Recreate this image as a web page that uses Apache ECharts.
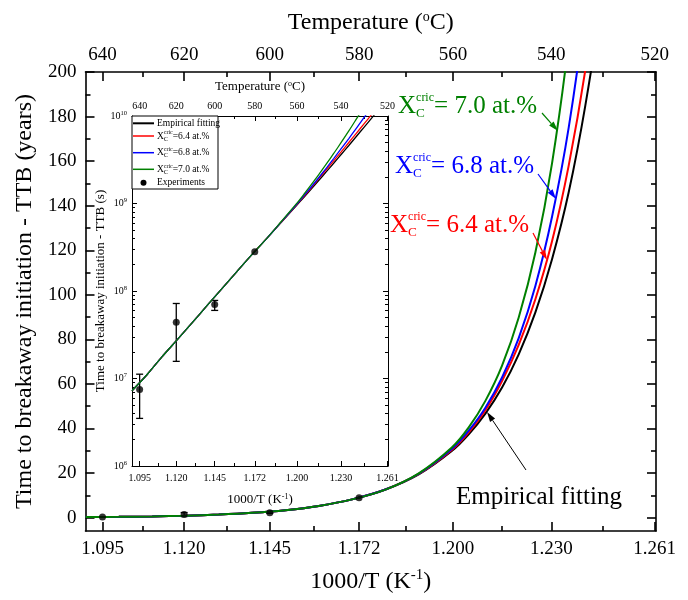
<!DOCTYPE html>
<html>
<head>
<meta charset="utf-8">
<title>Time to breakaway initiation</title>
<script src="https://cdn.jsdelivr.net/npm/echarts@6.0.0/dist/echarts.min.js"></script>
<style>
html, body { margin: 0; padding: 0; background: #fff; }
#chart { width: 688px; height: 600px; }
</style>
</head>
<body>
<div id="chart"></div>
<script>
// 1000/T (K^-1) sample points of the curves
const invT = [1.090, 1.100, 1.110, 1.120, 1.130, 1.140, 1.150, 1.160, 1.170, 1.180, 1.190, 1.200,
  1.205, 1.210, 1.215, 1.220, 1.225, 1.230, 1.235, 1.240, 1.245, 1.250, 1.255]
// TTB in years
const ttbFit = [0.23, 0.35, 0.56, 0.87, 1.36, 2.14, 3.35, 5.25, 8.2, 12.6, 19.4, 30.0,
  37.4, 46.7, 58.4, 73.3, 92.1, 116, 146, 185, 234, 296, 376]
const ttb64 = [0.23, 0.35, 0.56, 0.87, 1.36, 2.14, 3.35, 5.25, 8.2, 12.6, 19.6, 30.5,
  38.3, 48.2, 61.3, 77.5, 98.0, 124, 158, 201, 256, 326, 417]
const ttb68 = [0.23, 0.35, 0.56, 0.87, 1.36, 2.14, 3.35, 5.25, 8.2, 12.6, 19.7, 30.9,
  39.0, 49.3, 62.9, 80.6, 104, 135, 175, 229, 301, 397, 526]
const ttb70 = [0.23, 0.35, 0.56, 0.87, 1.36, 2.14, 3.35, 5.25, 8.2, 12.6, 19.9, 31.6,
  40.5, 52.4, 68.2, 89.8, 119, 159, 214, 292, 400, 550, 760]

// experiments, TTB in seconds
const expInvT = [1.0951, 1.1196, 1.1453, 1.1721]
const expTTB = [7.5e6, 4.4e7, 7.0e7, 2.8e8]
const expLow = [3.5e6, 1.57e7, 6.0e7, 2.8e8]
const expHigh = [1.12e7, 7.2e7, 7.8e7, 2.8e8]

// tick labels
const tempTicks = [640, 620, 600, 580, 560, 540, 520]
const tempMinor = [630, 610, 590, 570, 550, 530]
const invTLabels = ['1.095', '1.120', '1.145', '1.172', '1.200', '1.230', '1.261']
const yTicks = [0, 20, 40, 60, 80, 100, 120, 140, 160, 180, 200]
const yMinor = [10, 30, 50, 70, 90, 110, 130, 150, 170, 190]
const logDecades = [6, 7, 8, 9, 10]

const SEC_PER_YEAR = 3.1536e7
const FONT = 'Liberation Serif'
const X_MIN = 1.09
const X_MAX = 1.2612

const tickPos = tempTicks.map(t => 1000 / (t + 273.15))
const minorPos = tempMinor.map(t => 1000 / (t + 273.15))
const logMinor = []
for (let e = 6; e < 10; e++) {
  for (let k = 2; k <= 9; k++) logMinor.push(e + Math.log10(k))
}

const pairs = (xs, ys) => xs.map((x, i) => [x, ys[i]])
const toSec = arr => arr.map(v => v * SEC_PER_YEAR)
const toYear = arr => arr.map(v => v / SEC_PER_YEAR)

function labelFrom (list) {
  return function (v) {
    const i = tickPos.findIndex(p => Math.abs(p - v) < 1e-4)
    return i < 0 ? '' : String(list[i])
  }
}

// axis that only draws (inward) ticks, optionally its line
function tickAxis (grid, position, min, max, values, len, width, showLine) {
  return {
    type: 'value',
    gridIndex: grid,
    position: position,
    min: min,
    max: max,
    axisLine: { show: showLine, onZero: false, lineStyle: { color: '#000', width: width } },
    axisTick: { show: true, inside: true, length: len, customValues: values, lineStyle: { color: '#000', width: width } },
    axisLabel: { show: false },
    splitLine: { show: false }
  }
}

function withLabels (axis, values, formatter, size, margin, rich) {
  axis.axisLabel = {
    show: true,
    customValues: values,
    formatter: formatter,
    color: '#000',
    fontSize: size,
    fontFamily: FONT,
    margin: margin,
    rich: rich
  }
  return axis
}

function withName (axis, name, size, gap, rich) {
  axis.name = name
  axis.nameLocation = 'middle'
  axis.nameGap = gap
  axis.nameTextStyle = { color: '#000', fontSize: size, fontFamily: FONT, rich: rich }
  return axis
}

function supStyle (size, lift) {
  return { sup: { fontSize: size, fontFamily: FONT, color: '#000', padding: [0, 0, lift, 0] } }
}

// error bars through the axis scales
function errorBars (params, api) {
  const x = api.value(0)
  const lo = api.coord([x, api.value(1)])
  const hi = api.coord([x, api.value(2)])
  if (Math.abs(lo[1] - hi[1]) < 1) return null
  const h = 3.5
  const st = { stroke: '#000', lineWidth: 1.3 }
  return {
    type: 'group',
    children: [
      { type: 'line', shape: { x1: lo[0], y1: lo[1], x2: hi[0], y2: hi[1] }, style: st },
      { type: 'line', shape: { x1: lo[0] - h, y1: lo[1], x2: lo[0] + h, y2: lo[1] }, style: st },
      { type: 'line', shape: { x1: hi[0] - h, y1: hi[1], x2: hi[0] + h, y2: hi[1] }, style: st }
    ]
  }
}

function txt (x, y, text, size, color) {
  return {
    type: 'text', x: x, y: y, z: 100,
    style: {
      text: text, fill: color || '#000', fontSize: size, fontFamily: FONT,
      textAlign: 'left', align: 'left', textVerticalAlign: 'middle', verticalAlign: 'middle'
    }
  }
}

// X_C^cric = ... with stacked sub/superscript
function xcric (x, y, text, s, color, k) {
  const wX = 0.722 * s
  const small = (k || 0.48) * s
  return [
    txt(x, y, 'X', s, color),
    txt(x + wX, y - 0.33 * s, 'cric', small, color),
    txt(x + wX, y + 0.3 * s, 'C', small * 1.1, color),
    txt(x + wX + 1.5 * small, y, text, s, color)
  ]
}

function arrow (x1, y1, x2, y2, color, w) {
  const a = Math.atan2(y2 - y1, x2 - x1)
  const L = 10
  const W = 3
  const bx = x2 - L * Math.cos(a)
  const by = y2 - L * Math.sin(a)
  const px = -Math.sin(a) * W
  const py = Math.cos(a) * W
  return [
    { type: 'line', z: 100, shape: { x1: x1, y1: y1, x2: bx, y2: by }, style: { stroke: color, lineWidth: w } },
    { type: 'polygon', z: 100, shape: { points: [[x2, y2], [bx + px, by + py], [bx - px, by - py]] }, style: { fill: color } }
  ]
}

const curves = [
  { name: 'Empirical fitting', data: ttbFit, color: '#000000' },
  { name: '6.4', data: ttb64, color: '#ff0000' },
  { name: '6.8', data: ttb68, color: '#0000ff' },
  { name: '7.0', data: ttb70, color: '#008000' }
]

// ---- axes ----
const xAxes = [
  // main plot
  withName(withLabels(tickAxis(0, 'bottom', X_MIN, X_MAX, tickPos, 9, 1.6, true), tickPos, labelFrom(invTLabels), 19, 9),
    '1000/T (K{sup|-1})', 24, 37, supStyle(15, 12)),
  tickAxis(0, 'bottom', X_MIN, X_MAX, minorPos, 5, 1.6, false),
  withName(withLabels(tickAxis(0, 'top', X_MIN, X_MAX, tickPos, 9, 1.6, true), tickPos, labelFrom(tempTicks), 19, 7),
    'Temperature ({sup|o}C)', 24, 36, supStyle(14, 12)),
  tickAxis(0, 'top', X_MIN, X_MAX, minorPos, 5, 1.6, false),
  // inset
  withName(withLabels(tickAxis(1, 'bottom', X_MIN, X_MAX, tickPos, 5, 1, true), tickPos, labelFrom(invTLabels), 10, 7),
    '1000/T (K{sup|-1})', 13, 27, supStyle(8, 6)),
  tickAxis(1, 'bottom', X_MIN, X_MAX, minorPos, 3, 1, false),
  withName(withLabels(tickAxis(1, 'top', X_MIN, X_MAX, tickPos, 5, 1, true), tickPos, labelFrom(tempTicks), 10, 5),
    'Temperature ({sup|o}C)', 13, 22, supStyle(8, 6)),
  tickAxis(1, 'top', X_MIN, X_MAX, minorPos, 3, 1, false)
]

const yAxes = [
  // main plot
  withName(withLabels(tickAxis(0, 'left', -6, 200, yTicks, 9, 1.6, true), yTicks, v => String(v), 19, 9),
    'Time to breakaway initiation - TTB (years)', 24, 42),
  tickAxis(0, 'left', -6, 200, yMinor, 5, 1.6, false),
  tickAxis(0, 'right', -6, 200, yTicks, 9, 1.6, true),
  tickAxis(0, 'right', -6, 200, yMinor, 5, 1.6, false),
  // inset: log axis carrying the data
  { type: 'log', gridIndex: 1, min: 1e6, max: 1e10, logBase: 10, show: false },
  withName(withLabels(tickAxis(1, 'left', 6, 10, logDecades, 5, 1, true), logDecades, v => '10{sup|' + v + '}', 10, 5, supStyle(6.5, 6)),
    'Time to breakaway initiation - TTB (s)', 13, 15),
  tickAxis(1, 'left', 6, 10, logMinor, 3, 1, false),
  tickAxis(1, 'right', 6, 10, logDecades, 5, 1, true),
  tickAxis(1, 'right', 6, 10, logMinor, 3, 1, false)
]

// ---- series ----
const series = []
curves.forEach(c => {
  series.push({
    type: 'line', xAxisIndex: 0, yAxisIndex: 0, data: pairs(invT, c.data),
    symbol: 'none', smooth: 0.3, clip: true,
    lineStyle: { color: c.color, width: 2 }
  })
})
series.push({
  type: 'custom', xAxisIndex: 0, yAxisIndex: 0, renderItem: errorBars, z: 3,
  encode: { x: 0, y: [1, 2] },
  data: expInvT.map((x, i) => [x, expLow[i] / SEC_PER_YEAR, expHigh[i] / SEC_PER_YEAR])
})
series.push({
  type: 'scatter', xAxisIndex: 0, yAxisIndex: 0, symbol: 'circle', symbolSize: 7, z: 4,
  itemStyle: { color: '#000' }, data: pairs(expInvT, toYear(expTTB))
})
curves.forEach(c => {
  series.push({
    type: 'line', xAxisIndex: 4, yAxisIndex: 4, data: pairs(invT, toSec(c.data)),
    symbol: 'none', smooth: 0.3, clip: true,
    lineStyle: { color: c.color, width: 1.3 }
  })
})
series.push({
  type: 'custom', xAxisIndex: 4, yAxisIndex: 4, renderItem: errorBars, z: 3,
  encode: { x: 0, y: [1, 2] },
  data: expInvT.map((x, i) => [x, expLow[i], expHigh[i]])
})
series.push({
  type: 'scatter', xAxisIndex: 4, yAxisIndex: 4, symbol: 'circle', symbolSize: 7, z: 4,
  itemStyle: { color: '#000' }, data: pairs(expInvT, expTTB)
})

// ---- annotations and inset legend ----
let elements = []
elements = elements.concat(xcric(398, 106, '= 7.0 at.%', 25, '#008000'))
elements = elements.concat(arrow(542, 113, 558, 131, '#008000', 1.2))
elements = elements.concat(xcric(395, 166, '= 6.8 at.%', 25, '#0000ff'))
elements = elements.concat(arrow(538, 174, 556, 199, '#0000ff', 1.2))
elements = elements.concat(xcric(390, 225, '= 6.4 at.%', 25, '#ff0000'))
elements = elements.concat(arrow(533, 233, 547, 260, '#ff0000', 1.2))
elements.push(txt(456, 497, 'Empirical fitting', 25))
elements = elements.concat(arrow(526, 470, 487, 412, '#000', 1))

elements.push({ type: 'rect', z: 99, shape: { x: 132, y: 116, width: 86, height: 73 }, style: { fill: '#fff', stroke: '#000', lineWidth: 1 } })
const legendRows = [123.3, 136, 152.7, 169.3]
curves.forEach((c, i) => {
  const y = legendRows[i]
  elements.push({ type: 'line', z: 100, shape: { x1: 133, y1: y, x2: 154, y2: y }, style: { stroke: c.color, lineWidth: i === 0 ? 2 : 1.5 } })
  if (i === 0) elements.push(txt(157, y, c.name, 9.5))
  else elements = elements.concat(xcric(157, y, '=' + c.name + ' at.%', 9.5, '#000', 0.62))
})
elements.push({ type: 'circle', z: 100, shape: { cx: 143.5, cy: 182.7, r: 3 }, style: { fill: '#000' } })
elements.push(txt(157, 182.7, 'Experiments', 9.5))

const chart = echarts.init(document.getElementById('chart'), null, { renderer: 'canvas' })
chart.setOption({
  animation: false,
  backgroundColor: '#fff',
  grid: [
    { left: 85.5, top: 72, width: 570.5, height: 459 },
    { left: 132, top: 116, width: 256, height: 350 }
  ],
  xAxis: xAxes,
  yAxis: yAxes,
  series: series,
  graphic: { elements: elements }
})
</script>
</body>
</html>
